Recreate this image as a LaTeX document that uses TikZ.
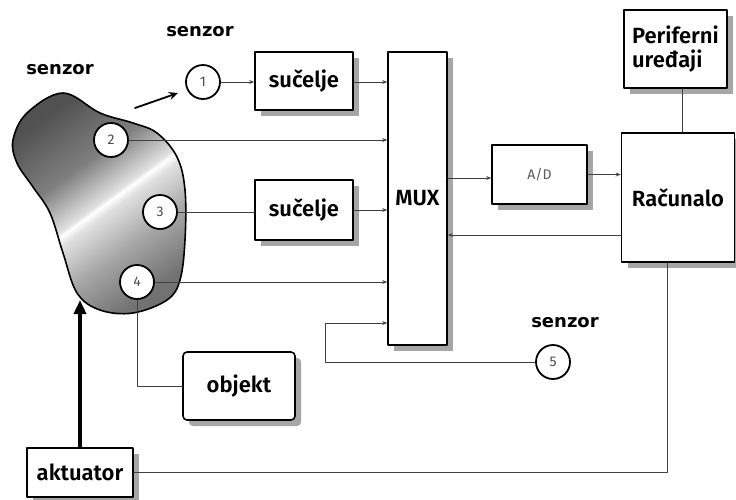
\documentclass[tikz,border=0pt]{standalone}
\usepackage{fontspec}
\setmainfont{Fira Sans}[BoldFont={Fira Sans SemiBold}]
\newfontfamily\senzorfont{DejaVu Sans}
\usetikzlibrary{arrows.meta}
\usetikzlibrary{shadows}
\usetikzlibrary{calc}

\pgfdeclarehorizontalshading{tijelo}{100bp}{color(0bp)=(black!70); color(25bp)=(black!68); color(40bp)=(black!50); color(50bp)=(black!12); color(51bp)=(white); color(53bp)=(black!12); color(63bp)=(black!35); color(75bp)=(black!55); color(100bp)=(black!60)}

\tikzset{
  blok/.style={draw, line width=1.6pt, fill=white, inner sep=0pt,
    font=\fontsize{22}{24}\selectfont\bfseries,
    drop shadow={shadow xshift=6pt, shadow yshift=-6pt, fill=black!35, opacity=1}},
  krug/.style={circle, draw, line width=1.8pt, fill=white, inner sep=0pt,
    minimum size=34pt, font=\fontsize{14}{14}\selectfont, text=black!70},
  oznaka/.style={font=\senzorfont\fontsize{18}{18}\selectfont\bfseries},
  veza/.style={line width=1pt, draw=black!75, -{Stealth[length=5pt, width=4pt]}},
  linija/.style={line width=1pt, draw=black!75},
}

\begin{document}
\begin{tikzpicture}[x=1pt, y=-1pt, line cap=round, line join=round]
  \useasboundingbox (0,0) rectangle (736,499);
  %--- objekt (tijelo)
    \shade[shading=tijelo, shading angle=-54, draw, line width=1.6pt]
      plot[smooth cycle, tension=0.6] coordinates {(63,93) (100,113) (133,123) (157,133) (177,157)
        (185,190) (185,240) (180,280) (167,300) (133,313) (100,310) (77,293) (63,253) (50,213)
        (33,187) (17,163) (13,140) (27,113)};
  %--- oznake senzora
    \node[oznaka] (txt1) at (200,32) {senzor};
    \node[oznaka] (txt2) at (60,70) {senzor};
    \node[oznaka] (txt5) at (565,323) {senzor};
  %--- senzori
    \node[krug] (sen1) at (203,82) {1};
    \node[krug] (sen2) at (111,140) {2};
    \node[krug] (sen3) at (160,212) {3};
    \node[krug] (sen4) at (137,282) {4};
    \node[krug] (sen5) at (553,362) {5};
  %--- blokovi
    \node[blok, minimum width=98pt, minimum height=58pt] (suc1) at (304,81) {sučelje};
    \node[blok, minimum width=98pt, minimum height=60pt] (suc2) at (304,210) {sučelje};
    \node[blok, minimum width=59pt, minimum height=293pt] (mux) at (417.5,198.5) {MUX};
    \node[blok, minimum width=95pt, minimum height=59pt, font=\fontsize{14}{14}\selectfont, text=black!65] (ad) at (539.5,174.5) {A/D};
    \node[blok, minimum width=113pt, minimum height=129pt] (rac) at (678,197.5) {Računalo};
    \node[blok, minimum width=103pt, minimum height=78pt, align=left] (per) at (675.5,49) {Periferni\\uređaji};
    \node[blok, minimum width=112pt, minimum height=68pt, rounded corners=4pt] (obj) at (239,386) {objekt};
    \node[blok, minimum width=106pt, minimum height=49pt] (akt) at (80,472.5) {aktuator};
  %--- pomocne tocke
    \coordinate (str1) at (135,108);
    \coordinate (str2) at (178,93);
    \coordinate (petlja) at (325,323);
    \coordinate (dno) at (80,300);
  %--- veze
    \draw[line width=1.8pt, -{Stealth[length=9pt, width=8pt]}] (str1) -- (str2);
    \draw[veza] (sen1.east) -- (sen1 -| suc1.west);
    \draw[veza] (suc1.east |- sen1) -- (sen1 -| mux.west);
    \draw[veza] (sen2.east) -- (sen2 -| mux.west);
    \draw[linija] (sen3.east) -- (sen3 -| suc2.west);
    \draw[veza] (suc2.east) -- (suc2.east -| mux.west);
    \draw[veza] (sen4.east) -- (sen4 -| mux.west);
    \draw[veza] (sen5.west) -| (petlja) -- (petlja -| mux.west);
    \draw[linija] (sen4.south) |- (obj.west);
    \draw[veza] ([yshift=-3.5pt]ad.west -| mux.east) -- ([yshift=-3.5pt]ad.west);
    \draw[veza] (ad.east) -- (ad.east -| rac.west);
    \draw[veza] ([yshift=-37.5pt]rac.west) -- ([yshift=-37.5pt]rac.west -| mux.east);
    \draw[linija] ([xshift=6.5pt]per.south) -- ([xshift=6.5pt]per.south |- rac.north);
    \draw[linija] ([xshift=-11pt]rac.south) |- (akt.east);
    \draw[line width=3.5pt, -{Triangle[length=14pt, width=12pt]}] (akt.north) -- (dno);
  \end{tikzpicture}
\end{document}
